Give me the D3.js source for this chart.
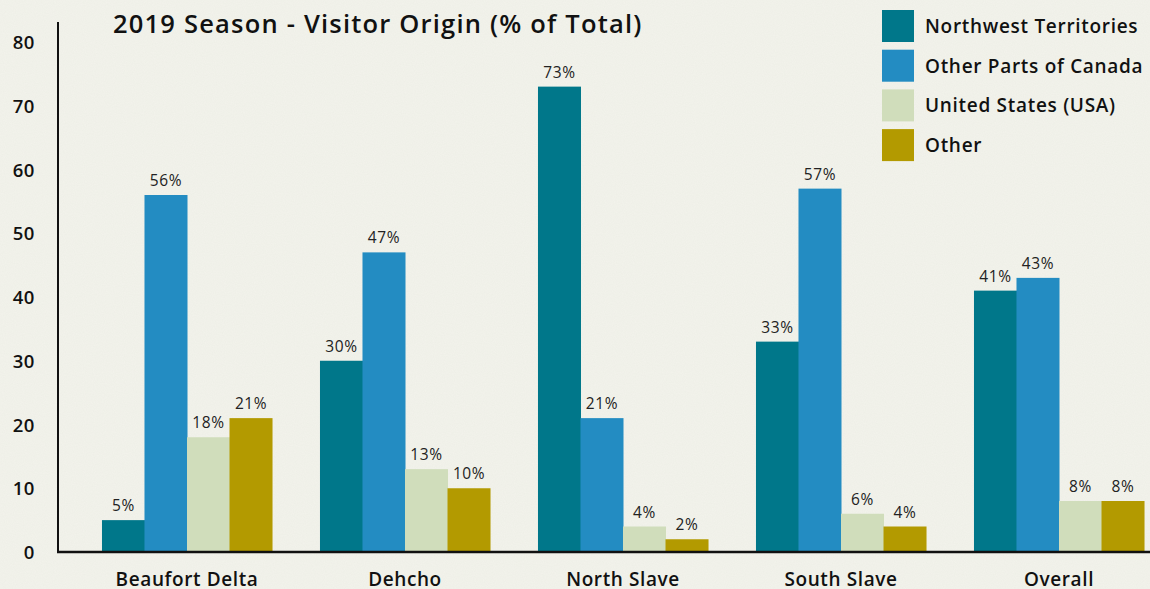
<!DOCTYPE html>
<html>
<head>
<meta charset="utf-8">
<script src="https://cdn.jsdelivr.net/npm/d3@7"></script>
<style>
  html, body { margin: 0; padding: 0; background: #f3f3ec; }
  svg { display: block; font-family: 'Open Sans', sans-serif; }
</style>
</head>
<body>
<div id="chart"></div>
<script>
const regions = ['Beaufort Delta', 'Dehcho', 'North Slave', 'South Slave', 'Overall']
const seriesNames = ['Northwest Territories', 'Other Parts of Canada', 'United States (USA)', 'Other']
const colors = ['#00778a', '#238cc2', '#d0ddbb', '#b39a00']

const nwt = [5, 30, 73, 33, 41]
const otherCanada = [56, 47, 21, 57, 43]
const usa = [18, 13, 4, 6, 8]
const other = [21, 10, 2, 4, 8]

const yTicks = [0, 10, 20, 30, 40, 50, 60, 70, 80]

const width = 1150
const height = 589

let svg = d3.select('#chart')
  .append('svg')
  .attr('width', width)
  .attr('height', height)

// faint paper texture
let defs = svg.append('defs')
let f = defs.append('filter').attr('id', 'paper')
f.append('feTurbulence').attr('type', 'fractalNoise').attr('baseFrequency', '0.9').attr('numOctaves', 2).attr('seed', 3)
f.append('feColorMatrix').attr('values', '0 0 0 0 0.55  0 0 0 0 0.6  0 0 0 0 0.5  0 0 0 0.12 0')

svg.append('rect').attr('width', width).attr('height', height).attr('fill', '#f3f3ec')
svg.append('rect').attr('width', width).attr('height', height).attr('filter', 'url(#paper)')

const rows = regions.map(function(r, i) {
  return { region: r, values: [nwt[i], otherCanada[i], usa[i], other[i]] }
})

let x0 = d3.scaleBand()
  .domain(regions)
  .range([78, 1168])
  .paddingInner(0.22)
  .paddingOuter(0.11)

let x1 = d3.scaleBand()
  .domain(d3.range(seriesNames.length))
  .range([0, x0.bandwidth()])

let y = d3.scaleLinear()
  .domain([0, 80])
  .range([552, 42])

// bars
let group = svg.selectAll('.group')
  .data(rows)
  .enter()
  .append('g')
  .attr('class', 'group')
  .attr('transform', function(d) { return `translate(${x0(d.region)},0)` })

group.selectAll('rect')
  .data(function(d) { return d.values })
  .enter()
  .append('rect')
  .attr('x', function(d, i) { return x1(i) })
  .attr('width', x1.bandwidth() + 0.5)
  .attr('y', function(d) { return y(d) })
  .attr('height', function(d) { return y(0) - y(d) })
  .attr('fill', function(d, i) { return colors[i] })

group.selectAll('.value')
  .data(function(d) { return d.values })
  .enter()
  .append('text')
  .attr('class', 'value')
  .attr('x', function(d, i) { return x1(i) + x1.bandwidth() / 2 + 0.3 })
  .attr('y', function(d) { return y(d) - 9 })
  .attr('text-anchor', 'middle')
  .attr('font-size', 15.5)
  .attr('letter-spacing', 0.6)
  .attr('fill', '#222')
  .text(function(d) { return d + '%' })

// axes
svg.append('line')
  .attr('x1', 58).attr('x2', 58)
  .attr('y1', 22).attr('y2', y(0))
  .attr('stroke', '#111').attr('stroke-width', 2)

svg.append('line')
  .attr('x1', 57).attr('x2', width)
  .attr('y1', y(0)).attr('y2', y(0))
  .attr('stroke', '#111').attr('stroke-width', 2.5)

let yAxis = d3.axisLeft(y).tickValues(yTicks).tickSize(0).tickPadding(0)
let yg = svg.append('g')
  .attr('transform', 'translate(35,0)')
  .call(yAxis)
yg.select('.domain').remove()
yg.selectAll('text')
  .attr('font-family', "'Open Sans', sans-serif")
  .attr('font-size', 18.5)
  .attr('font-weight', 600)
  .attr('letter-spacing', 0.6)
  .attr('fill', '#111')
  .attr('dy', '0.36em')

let xAxis = d3.axisBottom(x0).tickSize(0).tickPadding(0)
let xg = svg.append('g')
  .attr('transform', 'translate(0,572)')
  .call(xAxis)
xg.select('.domain').remove()
xg.selectAll('text')
  .attr('font-family', "'Open Sans', sans-serif")
  .attr('font-size', 19)
  .attr('font-weight', 600)
  .attr('letter-spacing', 0.6)
  .attr('fill', '#111')
  .attr('dy', '0.74em')

// title
svg.append('text')
  .attr('x', 113)
  .attr('y', 33)
  .attr('font-size', 25.5)
  .attr('font-weight', 600)
  .attr('letter-spacing', 1.2)
  .attr('fill', '#111')
  .text('2019 Season - Visitor Origin (% of Total)')

// legend
let legend = svg.selectAll('.legend')
  .data(seriesNames)
  .enter()
  .append('g')
  .attr('class', 'legend')
  .attr('transform', function(d, i) { return `translate(882,${10 + i * 39.7})` })

legend.append('rect')
  .attr('width', 32)
  .attr('height', 32)
  .attr('fill', function(d, i) { return colors[i] })

legend.append('text')
  .attr('x', 43)
  .attr('y', 16)
  .attr('dy', '0.36em')
  .attr('font-size', 19)
  .attr('font-weight', 600)
  .attr('letter-spacing', 0.7)
  .attr('fill', '#111')
  .text(function(d) { return d })
</script>
</body>
</html>
